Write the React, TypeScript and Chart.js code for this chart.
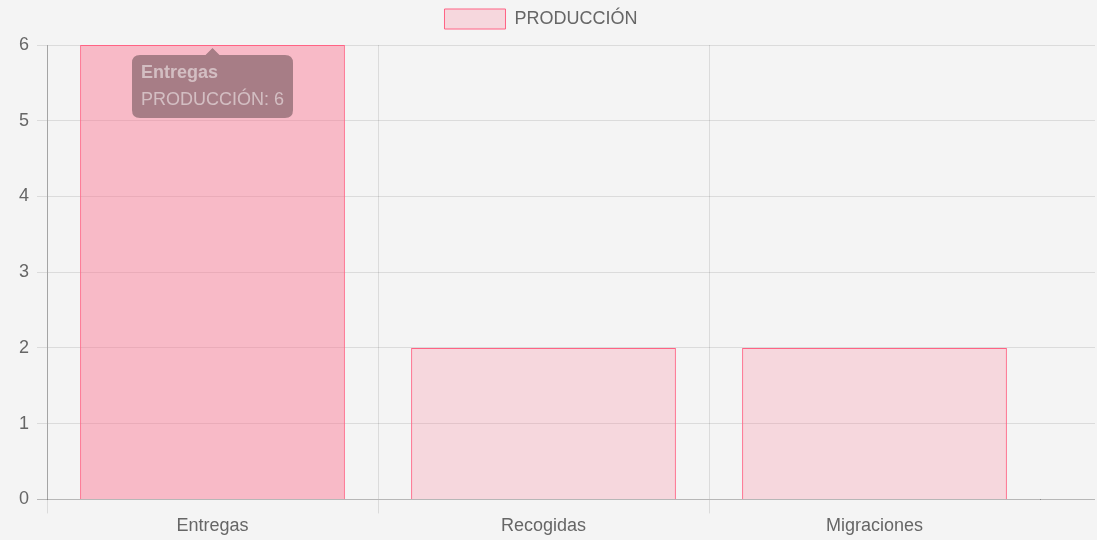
import React, { useEffect, useRef } from "react";
import { Chart, registerables } from "chart.js";

Chart.register(...registerables);

const categories = ["Entregas", "Recogidas", "Migraciones"];
const seriesLabel = "PRODUCCIÓN";
const seriesValues = [6, 2, 2];
const yTickMin = 0;
const yTickMax = 6;
const yTickStep = 1;

const FONT = "'Liberation Sans', Arial, Helvetica, sans-serif";
const GRID = "rgba(0,0,0,0.1)";
const AXIS = "rgba(0,0,0,0.25)";

const alignPx = (p: number) => Math.round(p - 0.5) + 0.5;

const extendGrid = {
  id: "extendGrid",
  beforeDatasetsDraw(chart: any) {
    const { ctx, chartArea, scales } = chart;
    const y = scales.y;
    const endX = chart.width - 2;
    ctx.save();
    ctx.lineWidth = 1;
    y.ticks.forEach((t: any) => {
      const py = alignPx(y.getPixelForValue(t.value));
      ctx.strokeStyle = t.value === 0 ? AXIS : GRID;
      ctx.beginPath();
      ctx.moveTo(chartArea.right, py);
      ctx.lineTo(endX, py);
      ctx.stroke();
    });
    ctx.restore();
  },
};

const legendSpacing = {
  id: "legendSpacing",
  beforeInit(chart: any) {
    const legend = chart.legend;
    if (!legend) return;
    const origFit = legend.fit;
    legend.fit = function () {
      origFit.bind(legend)();
      this.height += 6;
    };
  },
};

export default function App() {
  const ref = useRef<HTMLCanvasElement | null>(null);
  useEffect(() => {
    if (!ref.current) return;
    const chart = new Chart(ref.current, {
      type: "bar",
      data: {
        labels: categories,
        datasets: [
          {
            label: seriesLabel,
            data: seriesValues,
            backgroundColor: "rgba(255,99,132,0.2)",
            borderColor: "rgb(255,99,132)",
            hoverBackgroundColor: "rgba(255,99,132,0.4)",
            hoverBorderColor: "rgb(255,99,132)",
            borderWidth: 1,
            categoryPercentage: 0.8,
            barPercentage: 1,
          },
        ],
      },
      plugins: [extendGrid, legendSpacing],
      options: {
        responsive: false,
        animation: false,
        events: [],
        layout: { padding: { left: 0, right: 15, top: 0, bottom: 1 } },
        plugins: {
          legend: {
            position: "top",
            labels: {
              boxWidth: 61,
              boxHeight: 20,
              color: "#666",
              font: { family: FONT, size: 18 },
              padding: 9,
            },
          },
          tooltip: {
            enabled: true,
            backgroundColor: "rgba(0,0,0,0.33)",
            titleColor: "rgba(255,255,255,0.5)",
            bodyColor: "rgba(255,255,255,0.5)",
            titleFont: { family: FONT, size: 18, weight: "bold", lineHeight: 1 },
            bodyFont: { family: FONT, size: 18, lineHeight: 1 },
            padding: 9,
            titleMarginBottom: 9,
            caretSize: 7,
            caretPadding: 3,
            cornerRadius: 8,
            displayColors: false,
            xAlign: "center",
            yAlign: "top",
          },
        },
        scales: {
          x: {
            type: "category",
            offset: true,
            grid: {
              offset: true,
              color: (c: any) => (c.type === "tick" ? GRID : "rgba(0,0,0,0)"),
              tickLength: 14,
            },
            border: { color: AXIS },
            ticks: { color: "#666", font: { family: FONT, size: 18 }, padding: 2 },
          },
          y: {
            min: yTickMin,
            max: yTickMax,
            afterFit: (s: any) => {
              s.width = 47;
            },
            grid: {
              color: (c: any) => (c.tick && c.tick.value === 0 ? "rgba(0,0,0,0)" : GRID),
              tickColor: (c: any) => (c.tick && c.tick.value === 0 ? AXIS : GRID),
              tickLength: 10,
            },
            border: { color: AXIS },
            ticks: {
              stepSize: yTickStep,
              color: "#666",
              font: { family: FONT, size: 18 },
              padding: 8,
            },
          },
          yRightSpace: {
            type: "linear",
            position: "right",
            display: true,
            afterFit: (s: any) => {
              s.width = 42;
            },
            grid: { display: false, drawTicks: false },
            border: { display: false },
            ticks: { display: false },
          },
        },
      },
    });
    const active = [{ datasetIndex: 0, index: 0 }];
    chart.setActiveElements(active);
    const el: any = chart.getDatasetMeta(0).data[0];
    chart.tooltip!.setActiveElements(active, { x: el.x, y: el.y });
    chart.update();
    return () => chart.destroy();
  }, []);
  return (
    <div style={{ position: "fixed", left: 0, top: 0, width: 1097, height: 540, background: "#f4f4f4" }}>
      <canvas ref={ref} width={1097} height={540} style={{ display: "block" }} />
    </div>
  );
}
